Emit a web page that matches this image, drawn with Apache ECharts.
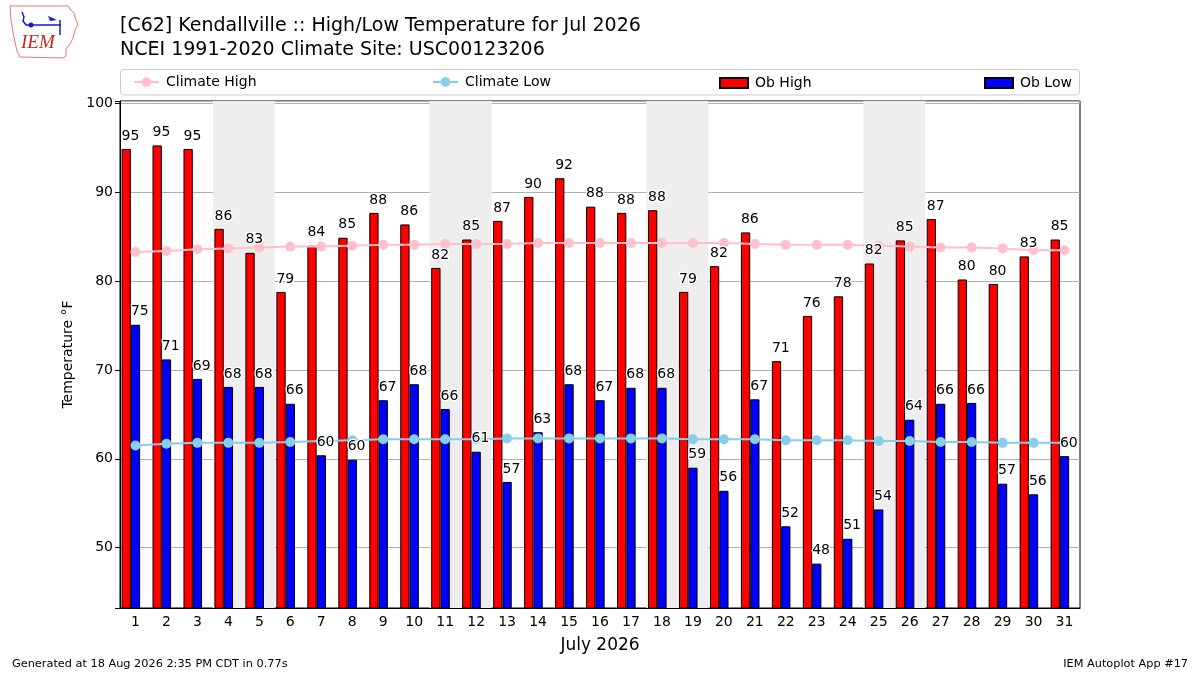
<!DOCTYPE html>
<html>
<head>
<meta charset="utf-8">
<title>Kendallville High/Low Temperature Jul 2026</title>
<script src="https://cdn.jsdelivr.net/npm/echarts@6/dist/echarts.min.js"></script>
<style>
  html, body { margin: 0; padding: 0; background: #ffffff; }
  #chart { width: 1200px; height: 675px; }
</style>
</head>
<body>
<div id="chart"></div>
<script>
var days = ['1','2','3','4','5','6','7','8','9','10','11','12','13','14','15','16',
	'17','18','19','20','21','22','23','24','25','26','27','28','29','30','31'];

var obHigh = [94.9, 95.3, 94.9, 85.9, 83.2, 78.8, 84.0, 84.9, 87.7, 86.4, 81.5, 84.7, 86.8, 89.5, 91.6, 88.4,
	87.7, 88.0, 78.8, 81.7, 85.5, 71.0, 76.1, 78.3, 82.0, 84.6, 87.0, 80.2, 79.7, 82.8, 84.7];
var obLow = [75.1, 71.2, 69.0, 68.1, 68.1, 66.2, 60.4, 59.9, 66.6, 68.4, 65.6, 60.8, 57.4, 63.0, 68.4, 66.6,
	68.0, 68.0, 59.0, 56.4, 66.7, 52.4, 48.2, 51.0, 54.3, 64.4, 66.2, 66.3, 57.2, 56.0, 60.3];
var climHigh = [83.3, 83.4, 83.6, 83.7, 83.8, 83.9, 83.9, 84.0, 84.1, 84.1, 84.2, 84.2, 84.2, 84.3, 84.3, 84.3,
	84.3, 84.3, 84.3, 84.3, 84.2, 84.1, 84.1, 84.1, 84.0, 83.9, 83.8, 83.8, 83.7, 83.5, 83.5];
var climLow = [61.5, 61.7, 61.8, 61.8, 61.8, 61.9, 62.0, 62.1, 62.2, 62.2, 62.2, 62.2, 62.3, 62.3, 62.3, 62.3,
	62.3, 62.3, 62.2, 62.2, 62.2, 62.1, 62.1, 62.1, 62.0, 62.0, 61.9, 61.9, 61.8, 61.8, 61.8];

// saturdays of the month, shaded together with the sunday after
var saturdays = [4, 11, 18, 25];

var yMin = 43.2;
var yMax = 100.3;

var fontName = 'DejaVu Sans';

function weekendAreas() {
	var areas = [];
	for (var i = 0; i < saturdays.length; i++) {
		areas.push([{xAxis: saturdays[i] - 0.5}, {xAxis: saturdays[i] + 1.5}]);
	}
	return areas;
}

// labels start at the left edge of their bar, like the original
var barLabel = {
	show: true,
	position: 'top',
	distance: 6,
	align: 'left',
	offset: [-4.6, 0],
	fontSize: 14,
	color: '#000000',
	textBorderColor: '#ffffff',
	textBorderWidth: 2.5,
	formatter: function (p) { return Math.round(p.value); }
};

function legendFor(name, left, top, w, h, icon) {
	var l = {
		data: [name],
		left: left,
		top: top,
		padding: 0,
		itemWidth: w,
		itemHeight: h,
		itemGap: 0,
		selectedMode: false,
		textStyle: {fontSize: 14, color: '#000000', fontFamily: fontName, padding: [0, 0, 0, 2]}
	};
	if (icon) l.icon = icon;
	return l;
}

// a bar series; the spacer keeps the high/low pair left of the day tick
function barSeries(name, values, color, axis, withMarks) {
	return {
		name: name,
		type: 'bar',
		xAxisIndex: axis,
		data: values,
		barWidth: '30%',
		barGap: '0%',
		z: withMarks ? 2 : 6,
		silent: !withMarks,
		itemStyle: withMarks
			? {color: color, borderColor: '#000000', borderWidth: 1}
			: {color: 'rgba(0,0,0,0)', borderWidth: 0},
		label: withMarks ? {show: false} : barLabel
	};
}

var chart = echarts.init(document.getElementById('chart'));

var option = {
	animation: false,
	backgroundColor: '#ffffff',
	textStyle: {fontFamily: fontName},
	title: {
		text: '[C62] Kendallville :: High/Low Temperature for Jul 2026\nNCEI 1991-2020 Climate Site: USC00123206',
		left: 120,
		top: 14,
		padding: 0,
		textStyle: {fontSize: 19, fontWeight: 'normal', color: '#000000', lineHeight: 24, fontFamily: fontName}
	},
	legend: [
		legendFor('Climate High', 133, 75, 25, 12),
		legendFor('Climate Low', 432, 75, 25, 12),
		legendFor('Ob High', 719, 76, 28, 10, 'rect'),
		legendFor('Ob Low', 984, 76, 28, 10, 'rect')
	],
	grid: {
		left: 120,
		right: 120,
		top: 101,
		bottom: 67,
		show: true,
		borderColor: '#000000',
		borderWidth: 1,
		backgroundColor: 'transparent'
	},
	xAxis: [
		{
			type: 'category',
			data: days,
			boundaryGap: true,
			name: 'July 2026',
			nameLocation: 'middle',
			nameGap: 29,
			nameTextStyle: {fontSize: 17, color: '#000000'},
			axisLine: {lineStyle: {color: '#000000', width: 1}},
			axisTick: {alignWithLabel: true, length: 5, lineStyle: {color: '#000000'}},
			axisLabel: {fontSize: 14, color: '#000000', margin: 7, interval: 0},
			splitLine: {show: false}
		},
		{
			// hidden linear copy of the day axis, used for the weekend shading
			type: 'value',
			min: 0.5,
			max: 31.5,
			show: false
		},
		{
			// hidden copy of the category axis, carries the value labels above the lines
			type: 'category',
			data: days,
			boundaryGap: true,
			show: false
		}
	],
	yAxis: {
		type: 'value',
		min: yMin,
		max: yMax,
		name: 'Temperature °F',
		nameLocation: 'middle',
		nameGap: 42,
		nameTextStyle: {fontSize: 14, color: '#000000'},
		axisLine: {show: true, lineStyle: {color: '#000000', width: 1}},
		axisTick: {show: true, length: 5, lineStyle: {color: '#000000'}},
		axisLabel: {
			fontSize: 14,
			color: '#000000',
			margin: 7,
			formatter: function (v) { return Math.abs(v % 10) < 0.001 ? v : ''; }
		},
		splitLine: {show: true, lineStyle: {color: '#b0b0b0', width: 1}}
	},
	series: [
		{
			name: 'weekends',
			type: 'line',
			xAxisIndex: 1,
			data: [],
			z: -1,
			silent: true,
			markArea: {
				silent: true,
				itemStyle: {color: '#eeeeee'},
				data: weekendAreas()
			}
		},
		barSeries('Ob High', obHigh, '#ff0000', 0, true),
		barSeries('Ob Low', obLow, '#0000ff', 0, true),
		barSeries('spacer', [], '#ffffff', 0, true),
		{
			name: 'Climate High',
			type: 'line',
			data: climHigh,
			symbol: 'circle',
			symbolSize: 10,
			z: 4,
			lineStyle: {color: '#ffc0cb', width: 2},
			itemStyle: {color: '#ffc0cb'}
		},
		{
			name: 'Climate Low',
			type: 'line',
			data: climLow,
			symbol: 'circle',
			symbolSize: 10,
			z: 4,
			lineStyle: {color: '#87ceeb', width: 2},
			itemStyle: {color: '#87ceeb'}
		},
		barSeries('high labels', obHigh, null, 2, false),
		barSeries('low labels', obLow, null, 2, false),
		barSeries('label spacer', [], null, 2, false)
	],
	graphic: [
		{
			// legend frame
			type: 'rect',
			z: -10,
			shape: {x: 120.5, y: 69.5, width: 959, height: 25.5, r: 3},
			style: {fill: '#ffffff', stroke: '#cccccc', lineWidth: 1}
		},
		{
			// IEM logo, rough state outline
			type: 'polyline',
			shape: {points: [[10, 6], [68, 6], [70, 9], [74, 13], [76, 20], [78, 25], [75, 30], [73, 38], [70, 44],
				[66, 49], [66, 56], [63, 58], [20, 57], [17, 51], [15, 42], [13, 32], [11, 20], [10, 6]]},
			style: {stroke: '#e87878', lineWidth: 1, fill: 'none'}
		},
		{
			type: 'polyline',
			shape: {points: [[22, 12], [24, 17], [23, 21], [26, 25], [61, 25]]},
			style: {stroke: '#1a1acc', lineWidth: 1.5, fill: 'none'}
		},
		{
			type: 'polyline',
			shape: {points: [[60, 20], [60, 35]]},
			style: {stroke: '#1a1acc', lineWidth: 1.5, fill: 'none'}
		},
		{
			type: 'polygon',
			shape: {points: [[48, 16], [57, 20], [50, 21]]},
			style: {fill: '#1a1acc'}
		},
		{
			type: 'circle',
			shape: {cx: 31, cy: 25, r: 2.5},
			style: {fill: '#1a1acc'}
		},
		{
			type: 'text',
			left: 21,
			top: 33,
			style: {text: 'IEM', fill: '#d42020', font: 'italic 19px "Liberation Serif"'}
		},
		{
			type: 'text',
			left: 12,
			top: 659,
			style: {text: 'Generated at 18 Aug 2026 2:35 PM CDT in 0.77s', fill: '#000000', font: '11.3px "DejaVu Sans"'}
		},
		{
			type: 'text',
			right: 12,
			top: 659,
			style: {text: 'IEM Autoplot App #17', fill: '#000000', font: '11.3px "DejaVu Sans"'}
		}
	]
};

chart.setOption(option);
</script>
</body>
</html>
